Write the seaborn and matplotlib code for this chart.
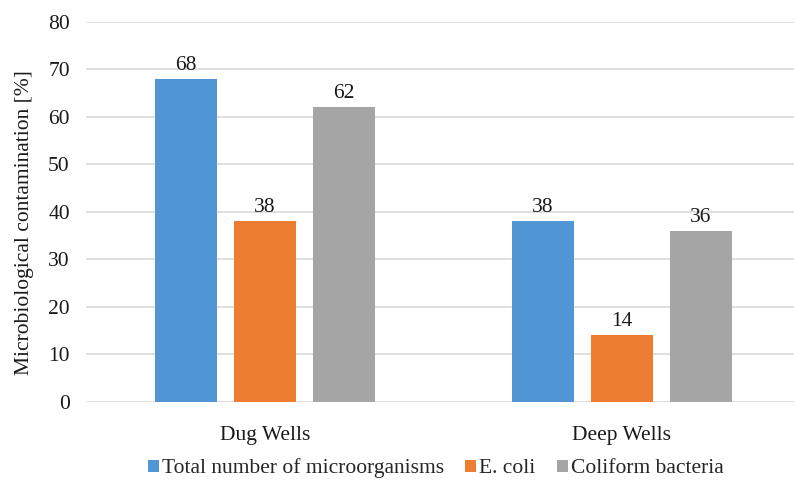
import matplotlib
matplotlib.use("Agg")
import matplotlib.pyplot as plt
import seaborn as sns
import pandas as pd

categories = ["Dug Wells", "Deep Wells"]
series = ["Total number of microorganisms", "E. coli", "Coliform bacteria"]
total = [68, 38]
ecoli = [38, 14]
coliform = [62, 36]
colors = ["#5096D4", "#ED7D31", "#A5A5A5"]

rows = []
for s, vals in zip(series, [total, ecoli, coliform]):
    for c, v in zip(categories, vals):
        rows.append({"cat": c, "series": s, "val": v})
df = pd.DataFrame(rows)

sns.set_theme(style="white")
plt.rcParams["font.family"] = ["Liberation Serif", "DejaVu Serif"]

FS = 15.5
TXT = "#1a1a1a"

fig = plt.figure(figsize=(7.94, 4.8), dpi=100)
ax = fig.add_axes([0.1089, 0.1625, 0.8992, 0.7917])

sns.barplot(data=df, x="cat", y="val", hue="series", palette=colors,
            width=0.664, gap=0.21, ax=ax, saturation=1, legend=True,
            linewidth=0, edgecolor="none")

for cont in ax.containers:
    ax.bar_label(cont, fmt="%d", fontsize=FS, padding=3, color=TXT)

ax.set_ylim(0, 80)
ax.set_yticks(range(0, 81, 10))
ax.set_xlim(-0.5, 1.5)
ax.yaxis.grid(True, color="#DDDAD8", linewidth=1.2)
ax.set_axisbelow(True)
for sp in ax.spines.values():
    sp.set_visible(False)
ax.tick_params(axis="both", length=0, labelsize=FS, colors=TXT)
ax.tick_params(axis="y", pad=12)
ax.tick_params(axis="x", pad=17)
ax.set_xlabel("")
ax.set_ylabel("Microbiological contamination [%]", fontsize=FS, color=TXT)
ax.yaxis.set_label_coords(-0.074, 0.471)

handles, labels = ax.get_legend_handles_labels()
if ax.get_legend():
    ax.get_legend().remove()
fig.legend(handles, labels, loc="center", bbox_to_anchor=(0.549, 0.024),
           ncol=3, frameon=False, fontsize=FS,
           handlelength=0.5, handleheight=0.5, handletextpad=0.15, columnspacing=1.0)

fig.savefig("out.png", dpi=100)
